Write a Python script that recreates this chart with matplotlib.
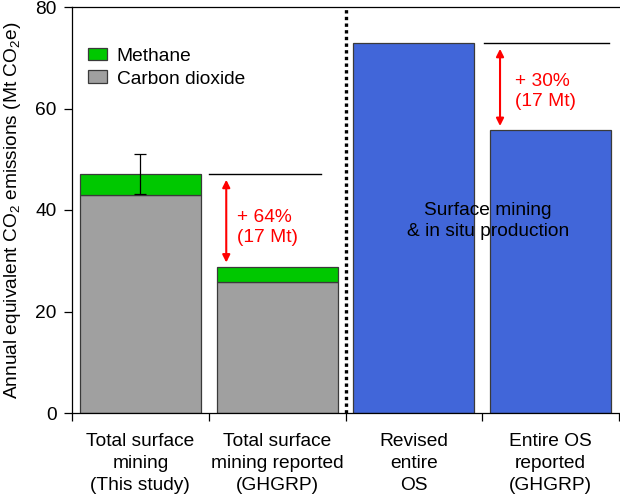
import matplotlib
matplotlib.use("Agg")
import matplotlib.pyplot as plt

plt.rcParams['font.family'] = ['Liberation Sans', 'DejaVu Sans']
plt.rcParams['mathtext.default'] = 'regular'

categories = ["Total surface\nmining\n(This study)",
              "Total surface\nmining reported\n(GHGRP)",
              "Revised\nentire\nOS",
              "Entire OS\nreported\n(GHGRP)"]
co2 = [42.9, 25.8]
methane = [4.2, 2.9]
os_totals = [72.9, 55.8]
err_study = 4.0
annot_left = "+ 64%\n(17 Mt)"
annot_right = "+ 30%\n(17 Mt)"
yticks = [0, 20, 40, 60, 80]

FS = 13.8
fig = plt.figure(figsize=(6.2, 4.97), dpi=100)
ax = fig.add_axes([72/620, 1-413/497, 547/620, 406/497])

x = [0.5, 1.5, 2.5, 3.5]
w = 0.885
ec = '#3a3a3a'
tot = [c + m for c, m in zip(co2, methane)]
ax.bar(x[:2], co2, width=w, color='#a0a0a0', edgecolor=ec, linewidth=0.9, label='Carbon dioxide', zorder=2)
ax.bar(x[:2], methane, bottom=co2, width=w, color='#00c800', edgecolor=ec, linewidth=0.9, label='Methane', zorder=2)
ax.bar(x[2:], os_totals, width=w, color='#4166d9', edgecolor=ec, linewidth=0.9, zorder=2)

ax.errorbar([x[0]], [tot[0]], yerr=[[err_study], [err_study]], fmt='none', ecolor='black',
            elinewidth=0.9, capsize=4, capthick=0.9, zorder=3)

# reference lines
ax.plot([1.0, 1.82], [tot[0], tot[0]], color='black', lw=1.0, zorder=3)
ax.plot([3.01, 3.93], [os_totals[0], os_totals[0]], color='black', lw=1.0, zorder=3)

# arrows
ap = dict(arrowstyle='<|-|>', color='red', lw=1.5, mutation_scale=11, shrinkA=2, shrinkB=2)
ax.annotate('', xy=(1.128, tot[0] - 0.6), xytext=(1.128, tot[1] + 0.4), arrowprops=ap, zorder=4)
ax.annotate('', xy=(3.13, os_totals[0] - 0.6), xytext=(3.13, os_totals[1] + 0.2), arrowprops=ap, zorder=4)
ax.text(1.21, 36.5, annot_left, color='red', fontsize=FS, ha='left', va='center', linespacing=1.25, zorder=4)
ax.text(3.24, 63.3, annot_right, color='red', fontsize=FS, ha='left', va='center', linespacing=1.25, zorder=4)

ax.text(3.04, 37.8, "Surface mining\n& in situ production", color='black', fontsize=FS,
        ha='center', va='center', linespacing=1.3, zorder=4)

# divider
ax.plot([2.0, 2.0], [0, 80], color='black', lw=2.4, linestyle=(0, (1, 1)),
        solid_capstyle='butt', dash_capstyle='butt', zorder=3, clip_on=False)

ax.set_xlim(0, 4)
ax.set_ylim(0, 80)
ax.set_yticks(yticks)
ax.set_yticklabels([str(v) for v in yticks], fontsize=FS)
ax.set_xticks([0, 1, 2, 3, 4])
ax.set_xticklabels([])
ax.tick_params(axis='both', direction='out', length=6, width=0.9, colors='black')
ax.tick_params(axis='y', pad=5)
for i, lab in enumerate(categories):
    ax.text(x[i], -0.049, lab, transform=ax.get_xaxis_transform(), ha='center', va='top',
            fontsize=FS, linespacing=1.4)

for s in ['left', 'top', 'bottom']:
    ax.spines[s].set_linewidth(0.9)
ax.spines['right'].set_visible(False)

ax.set_ylabel("Annual equivalent CO$_2$ emissions (Mt CO$_2$e)", fontsize=FS)
ax.yaxis.set_label_coords(-0.09, 0.5)

h, l = ax.get_legend_handles_labels()
ax.legend(h[::-1], l[::-1], loc='upper left', bbox_to_anchor=(0.029, 0.90), frameon=False,
          fontsize=FS, handlelength=1.0, handleheight=0.65, handletextpad=0.5,
          labelspacing=0.3, borderpad=0, borderaxespad=0)

fig.savefig('out.png', dpi=100)
